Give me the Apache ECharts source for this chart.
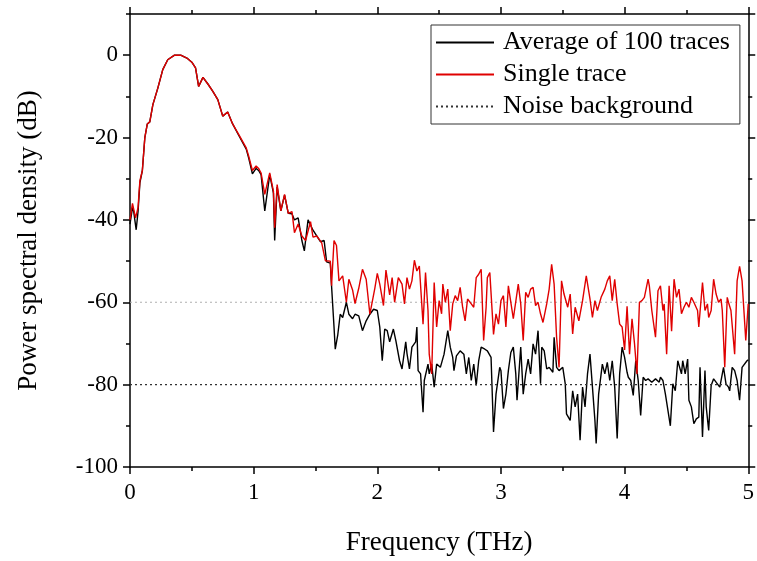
<!DOCTYPE html>
<html>
<head>
<meta charset="utf-8">
<script src="https://cdn.jsdelivr.net/npm/echarts@6/dist/echarts.min.js"></script>
<style>html,body{margin:0;padding:0;background:#fff}#c{width:757px;height:561px}</style>
</head>
<body>
<div id="c"></div>
<script>
// [frequency THz, PSD dB]
var singleTrace = [[0,-40],[0.02,-36],[0.03,-35.8],[0.045,-39.5],[0.065,-37],[0.08,-30.5],[0.1,-28],[0.12,-20],[0.14,-16.7],[0.16,-16.2],[0.185,-12],[0.225,-8],[0.265,-3.5],[0.305,-1.1],[0.36,0],[0.41,0],[0.46,-0.7],[0.5,-1.7],[0.53,-3.1],[0.555,-7.6],[0.59,-5.4],[0.63,-7],[0.67,-8.8],[0.71,-10.8],[0.75,-14.8],[0.79,-13.8],[0.83,-16.7],[0.88,-19.3],[0.94,-22.5],[0.96,-24.5],[0.99,-28],[1.02,-26.9],[1.04,-27.5],
[1.06,-28.6],[1.09,-33.8],[1.13,-28.6],[1.16,-33],[1.17,-41.9],[1.19,-31.4],[1.22,-37.8],[1.25,-33.8],[1.28,-38.4],[1.31,-38],[1.33,-43.1],[1.36,-41],[1.39,-43.9],[1.42,-45],[1.46,-40.4],[1.48,-44.2],[1.51,-43.9],[1.55,-45.5],[1.58,-49.9],[1.62,-50],[1.63,-56],[1.65,-45],[1.67,-46.2],[1.69,-54.8],[1.72,-53.6],[1.75,-60],[1.77,-54.4],[1.8,-57],[1.82,-60.3],[1.85,-56.6],[1.88,-52],[1.91,-54.4],[1.94,-62.9],[1.98,-56.6],
[2.0,-53],[2.02,-55.6],[2.05,-60.8],[2.07,-52.2],[2.1,-58.2],[2.12,-54],[2.14,-60],[2.17,-54],[2.2,-55.6],[2.22,-60.4],[2.24,-54],[2.26,-56.8],[2.28,-54.8],[2.3,-49.8],[2.32,-52.4],[2.34,-51.2],[2.37,-65.3],[2.39,-52.8],[2.41,-62],[2.42,-72.6],[2.44,-77.4],[2.46,-55.2],[2.48,-66],[2.5,-59.6],[2.52,-62.8],[2.53,-55.6],[2.55,-60],[2.57,-56.8],[2.59,-66.9],[2.61,-60.4],[2.63,-58.4],[2.65,-59.6],[2.67,-56.4],[2.69,-61.2],[2.71,-64.5],[2.73,-59.2],[2.76,-60.4],[2.78,-61.2],[2.8,-54],[2.82,-53.2],[2.84,-52],[2.86,-69.3],[2.88,-61.2],[2.89,-54],[2.91,-52.8],[2.94,-67.8],[2.96,-62.8],[2.98,-65.3],
[3.0,-59.6],[3.02,-58.4],[3.04,-66],[3.06,-56],[3.08,-60],[3.1,-64],[3.14,-55.6],[3.16,-60.4],[3.18,-69.3],[3.2,-57.6],[3.22,-58.8],[3.24,-56.8],[3.26,-56.4],[3.28,-60.8],[3.3,-60],[3.32,-62.8],[3.34,-64.9],[3.37,-60.4],[3.39,-56.8],[3.41,-50.8],[3.43,-55.6],[3.45,-68.5],[3.47,-75.8],[3.49,-54.8],[3.51,-58],[3.54,-61.2],[3.56,-58],[3.58,-67.7],[3.6,-61.2],[3.63,-64.5],[3.66,-59.6],[3.67,-57.6],[3.69,-53.6],[3.72,-59.2],[3.74,-63.7],[3.76,-59.6],[3.78,-62],[3.81,-58.8],[3.84,-56.8],[3.86,-54.8],[3.88,-53.6],[3.9,-59.6],[3.92,-54.4],[3.94,-60.4],[3.96,-65.3],[3.98,-66],
[4.0,-71.6],[4.02,-61],[4.04,-72.6],[4.06,-64],[4.08,-70],[4.1,-77.4],[4.12,-60],[4.14,-59.6],[4.16,-58.8],[4.19,-54.4],[4.2,-56],[4.22,-62],[4.25,-68.5],[4.27,-57.2],[4.29,-56],[4.31,-62],[4.32,-60.4],[4.34,-72.6],[4.36,-56],[4.38,-67],[4.4,-54.4],[4.42,-58.8],[4.44,-56.8],[4.46,-62.8],[4.48,-61.2],[4.5,-60],[4.52,-61.2],[4.54,-58.8],[4.56,-60],[4.57,-60.4],[4.59,-62],[4.6,-66],[4.63,-55.2],[4.65,-62],[4.67,-60.4],[4.68,-63.7],[4.7,-62],[4.72,-54.4],[4.74,-58],[4.76,-60],[4.78,-59.2],[4.79,-62],[4.81,-75.8],[4.83,-58.8],[4.84,-60],[4.86,-62],[4.89,-72.6],[4.91,-54.8],[4.93,-51.3],[4.95,-54.8],[4.98,-69.3],[5.0,-60.4]];

var averageTrace = [[0,-41],[0.02,-37],[0.03,-38],[0.05,-42.4],[0.065,-38],[0.08,-31],[0.1,-28],[0.12,-20],[0.14,-16.7],[0.16,-16.2],[0.185,-12],[0.225,-8],[0.265,-3.5],[0.305,-1.1],[0.36,0],[0.41,0],[0.46,-0.7],[0.5,-1.7],[0.53,-3.1],[0.555,-7.6],[0.59,-5.4],[0.63,-7],[0.67,-8.8],[0.71,-10.8],[0.75,-14.8],[0.79,-13.8],[0.83,-16.7],[0.88,-19.5],[0.94,-22.8],[0.96,-25],[0.99,-28.8],[1.02,-27.5],[1.04,-28],
[1.06,-29],[1.09,-37.8],[1.13,-29],[1.16,-33.5],[1.17,-45],[1.19,-32],[1.22,-37.8],[1.25,-34],[1.28,-38.4],[1.31,-38.5],[1.33,-40],[1.36,-39.5],[1.39,-45],[1.41,-47.5],[1.44,-40],[1.48,-42.5],[1.51,-43.9],[1.54,-45.3],[1.57,-45],[1.59,-50.2],[1.62,-50.5],[1.63,-56],[1.65,-66],[1.66,-71.4],[1.68,-68],[1.7,-62.9],[1.72,-63.7],[1.75,-60],[1.77,-62.9],[1.8,-64],[1.82,-62.9],[1.85,-63.3],[1.88,-66.9],[1.91,-64.5],[1.94,-62.9],[1.97,-61.7],
[2.0,-62],[2.02,-66],[2.04,-74.2],[2.06,-66.5],[2.08,-66.9],[2.1,-69.6],[2.13,-66.5],[2.15,-69.3],[2.18,-74.2],[2.2,-76.2],[2.23,-69.6],[2.24,-72.4],[2.26,-76.2],[2.28,-70.9],[2.31,-69.6],[2.32,-66],[2.33,-76.6],[2.35,-77.4],[2.37,-86.7],[2.38,-79],[2.41,-75],[2.42,-77.4],[2.44,-75],[2.46,-80.6],[2.48,-75],[2.51,-75.8],[2.54,-72.6],[2.57,-66.9],[2.59,-70.9],[2.61,-73.4],[2.62,-76.6],[2.64,-73],[2.67,-71.8],[2.7,-72.6],[2.72,-77.4],[2.74,-73.4],[2.76,-79],[2.78,-75],[2.8,-80.2],[2.82,-74.2],[2.84,-70.9],[2.87,-71.4],[2.89,-71.8],[2.92,-73.4],[2.94,-91.5],[2.96,-82.3],[2.99,-75.8],
[3.0,-76.6],[3.02,-85.8],[3.04,-82.3],[3.06,-76.6],[3.08,-72.2],[3.1,-70.9],[3.12,-77.4],[3.13,-83.8],[3.16,-70.9],[3.18,-82.3],[3.2,-77.4],[3.22,-73.8],[3.24,-77.4],[3.26,-70.1],[3.28,-72.6],[3.3,-66.9],[3.32,-79.8],[3.33,-70.9],[3.35,-71.8],[3.37,-76.2],[3.39,-75.8],[3.42,-77],[3.43,-68.5],[3.45,-75.8],[3.47,-76.6],[3.5,-75.8],[3.52,-79.8],[3.53,-87.1],[3.56,-88.7],[3.58,-81.5],[3.6,-85.4],[3.62,-82.3],[3.64,-93.5],[3.66,-80.6],[3.68,-85.4],[3.7,-77.4],[3.72,-72.6],[3.74,-80.6],[3.76,-88.7],[3.77,-94.3],[3.79,-82.3],[3.82,-75],[3.84,-77.4],[3.86,-74.6],[3.88,-79],[3.9,-74.2],[3.92,-80.6],[3.94,-93.1],[3.96,-77.4],[3.98,-70.9],
[4.0,-73.4],[4.02,-77],[4.03,-78.2],[4.05,-79],[4.07,-82.6],[4.09,-74.2],[4.11,-79],[4.13,-87.5],[4.15,-78.2],[4.17,-79],[4.19,-78.6],[4.22,-79.4],[4.25,-78.6],[4.28,-79.4],[4.29,-78.2],[4.31,-79],[4.33,-82.3],[4.37,-90],[4.39,-79.8],[4.41,-81.5],[4.43,-74.2],[4.46,-77.4],[4.47,-74.2],[4.49,-77.4],[4.51,-73.8],[4.52,-83.8],[4.54,-85.4],[4.56,-89.5],[4.58,-88.3],[4.6,-87.9],[4.61,-75.8],[4.63,-92.7],[4.65,-76.6],[4.66,-85.4],[4.68,-91.1],[4.7,-80.2],[4.72,-78.6],[4.75,-79.8],[4.77,-80.6],[4.78,-79],[4.8,-75.8],[4.82,-79.8],[4.84,-80.6],[4.85,-81.5],[4.87,-75.8],[4.89,-76.6],[4.91,-79],[4.93,-83.8],[4.95,-75.8],[4.99,-74.2],[5.0,-74]];

var noiseAverage = [[0,-80],[5,-80]];
var noiseSingle = [[0,-60],[5,-60]];
var seriesNames = ['Average of 100 traces','Single trace','Noise background'];

var FONT = '"Liberation Serif","Times New Roman",serif';
var chart = echarts.init(document.getElementById('c'), null, {renderer:'canvas'});
var axisLine = {show:true, onZero:false, lineStyle:{color:'#000', width:1.5}};
function xAx(pos, labels){
  return {type:'value', position:pos, min:0, max:5, interval:1,
    axisLine:axisLine, splitLine:{show:false},
    axisTick:{show:true, inside:false, length:7, lineStyle:{color:'#000',width:1.5}},
    minorTick:{show:true, splitNumber:2, length:4, lineStyle:{color:'#000',width:1.5}},
    axisLabel:{show:labels, margin:14, color:'#000', fontFamily:FONT, fontSize:23},
    name: labels ? 'Frequency (THz)' : '', nameLocation:'middle', nameGap:62,
    nameTextStyle:{color:'#000', fontFamily:FONT, fontSize:27}};
}
function yAx(pos, labels, interval, tickLen, line){
  return {type:'value', position:pos, offset:0, min:-100, max:10, interval:interval,
    axisLine: line ? axisLine : {show:false, onZero:false}, splitLine:{show:false},
    axisTick:{show:true, inside:false, length:tickLen, lineStyle:{color:'#000',width:1.5}},
    axisLabel:{show:labels, showMaxLabel:false, margin:12, color:'#000', fontFamily:FONT, fontSize:23},
    name: labels ? 'Power spectral density (dB)' : '', nameLocation:'middle', nameGap:88,
    nameTextStyle:{color:'#000', fontFamily:FONT, fontSize:27}};
}
chart.setOption({
  animation:false,
  backgroundColor:'#fff',
  grid:{left:130, right:7, top:14, bottom:91, containLabel:false},
  legend:{orient:'vertical', left:431, top:25, data:seriesNames,
    itemWidth:58, itemHeight:14, itemGap:5, padding:[4,10,4,4],
    itemStyle:{opacity:0},
    borderColor:'#333', borderWidth:1, backgroundColor:'#fff',
    textStyle:{color:'#000', fontFamily:FONT, fontSize:26, lineHeight:27, padding:[0,0,0,4]}},
  xAxis:[xAx('bottom', true), xAx('top', false)],
  yAxis:[yAx('left', true, 20, 7, true), yAx('left', false, 10, 4, false),
         yAx('right', false, 20, 7, true), yAx('right', false, 10, 4, false)],
  series:[
    {name:'Noise single', type:'line', data:noiseSingle, symbol:'none', silent:true,
      lineStyle:{color:'#b0b0b0', width:1.2, type:[2,3]}, z:1},
    {name:seriesNames[0], type:'line', data:averageTrace, symbol:'none',
      lineStyle:{color:'#000', width:1.4}, itemStyle:{color:'#000'}, z:2},
    {name:seriesNames[1], type:'line', data:singleTrace, symbol:'none',
      lineStyle:{color:'#e00000', width:1.4}, itemStyle:{color:'#e00000'}, z:3},
    {name:seriesNames[2], type:'line', data:noiseAverage, symbol:'none',
      lineStyle:{color:'#333', width:1.2, type:[2,3]}, itemStyle:{color:'#333'}, z:4}
  ]
});
</script>
</body>
</html>
